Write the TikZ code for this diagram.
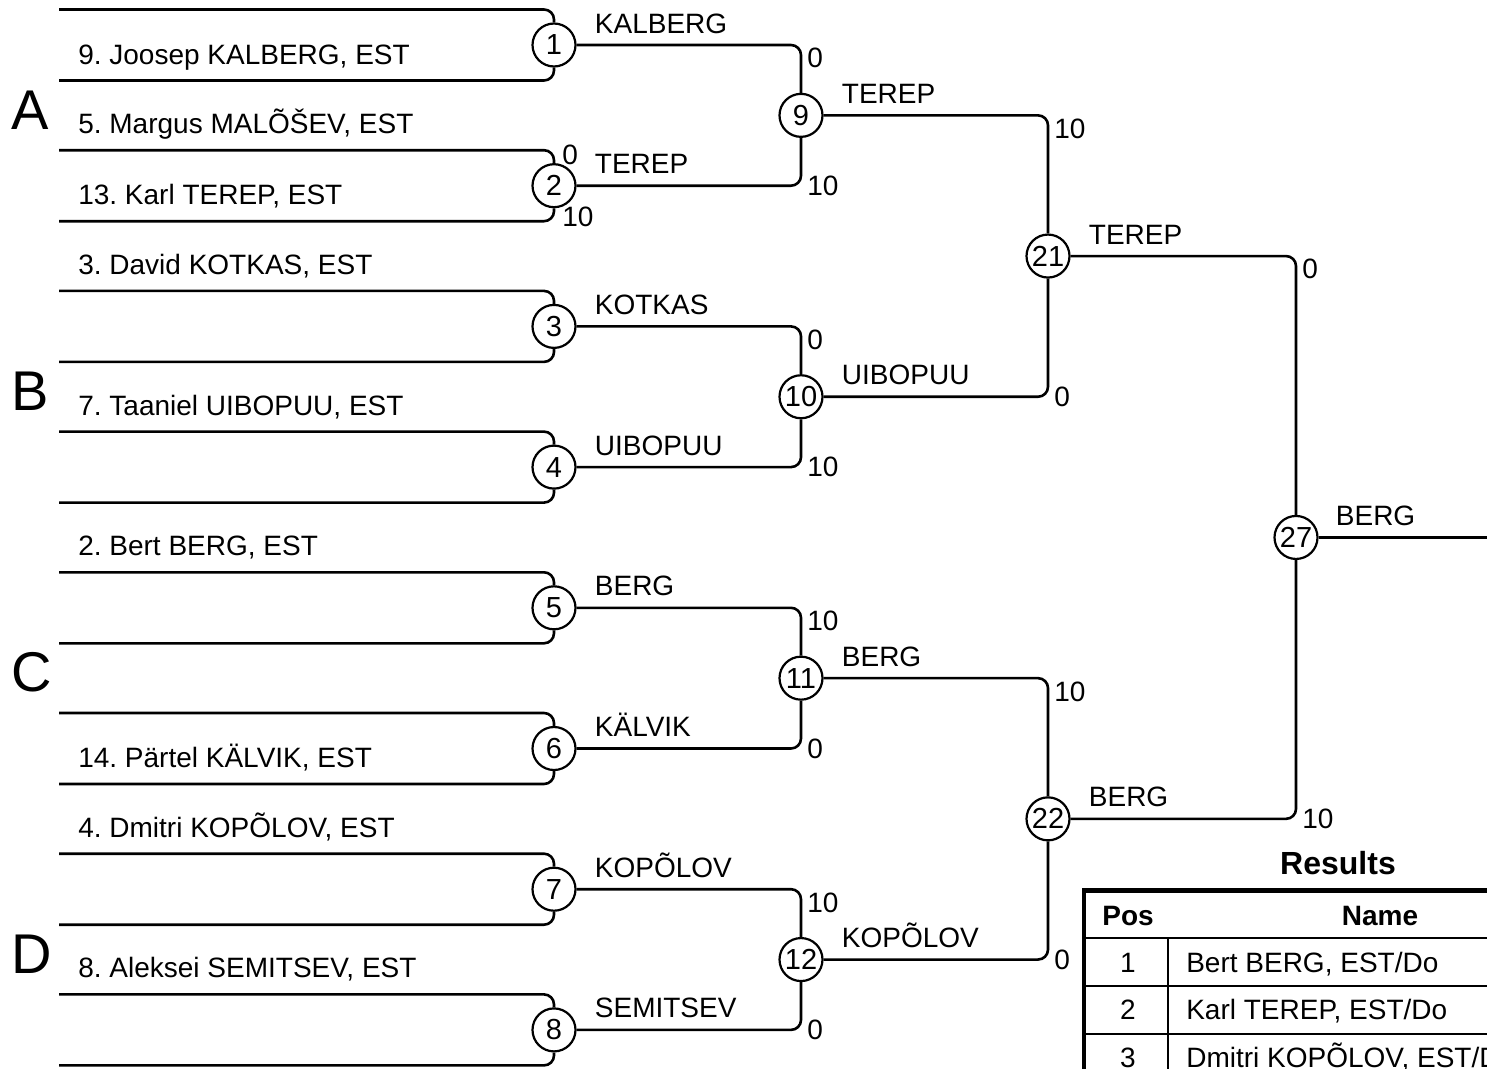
\documentclass[tikz,border=0pt]{standalone}
\usepackage{fontspec}
\setmainfont{Liberation Sans}
\usetikzlibrary{calc}
\frenchspacing

\begin{document}
\begin{tikzpicture}[x=1pt,y=-1pt,line width=2.6pt,
  bout/.style={draw,circle,line width=2.2pt,minimum size=43pt,inner sep=0pt,font=\fontsize{29}{29}\selectfont},
  player/.style={anchor=base west,inner sep=0pt,font=\fontsize{28}{28}\selectfont},
  winner/.style={anchor=base west,inner sep=0pt,font=\fontsize{28}{28}\selectfont},
  score/.style={anchor=west,inner sep=0pt,font=\fontsize{28}{28}\selectfont},
  pool/.style={anchor=base west,inner sep=0pt,font=\fontsize{56}{56}\selectfont},
  cell/.style={anchor=base,inner sep=0pt,font=\fontsize{28}{28}\selectfont},
  bracket/.style={rounded corners=10pt}]

\useasboundingbox (0,0) rectangle (1487,1068);
\clip (0,0) rectangle (1487,1068);

% Round 1
\foreach \n/\y in {1/45,2/185.7,3/326.4,4/467.1,5/607.8,6/748.5,7/889.2,8/1029.9} {
  \node[bout] (m\n) at (554,\y) {\n};
  \coordinate (t\n) at (59,\y-35.5);
  \coordinate (b\n) at (59,\y+35.5);
  \draw[bracket] (t\n) -| (m\n.north);
  \draw[bracket] (b\n) -| (m\n.south);
}

% Players
\node[player] (n1) at ($(b1)+(18,-16.5)$) {9. Joosep KALBERG, EST};
\node[player] (n2) at ($(t2)+(18,-16.5)$) {5. Margus MALÕŠEV, EST};
\node[player] (n3) at ($(b2)+(18,-16.5)$) {13. Karl TEREP, EST};
\node[player] (n4) at ($(t3)+(18,-16.5)$) {3. David KOTKAS, EST};
\node[player] (n5) at ($(t4)+(18,-16.5)$) {7. Taaniel UIBOPUU, EST};
\node[player] (n6) at ($(t5)+(18,-16.5)$) {2. Bert BERG, EST};
\node[player] (n7) at ($(b6)+(18,-16.5)$) {14. Pärtel KÄLVIK, EST};
\node[player] (n8) at ($(t7)+(18,-16.5)$) {4. Dmitri KOPÕLOV, EST};
\node[player] (n9) at ($(t8)+(18,-16.5)$) {8. Aleksei SEMITSEV, EST};

% Pools
\node[pool] (ga) at (10,129) {A};
\node[pool] (gb) at (10,410.4) {B};
\node[pool] (gc) at (10,691.8) {C};
\node[pool] (gd) at (10,973.2) {D};

% Scores of bout 2
\node[score] at ($(t2-|m2)+(7,5)$) {0};
\node[score] at ($(b2-|m2)+(7,-4)$) {10};

% Round 2
\node[bout] (m9) at (801,115.35) {9};
\node[bout] (m10) at (801,396.75) {10};
\node[bout] (m11) at (801,678.15) {11};
\node[bout] (m12) at (801,959.55) {12};

\draw[bracket] (m1.east) -| (m9.north);
\draw[bracket] (m2.east) -| (m9.south);
\draw[bracket] (m3.east) -| (m10.north);
\draw[bracket] (m4.east) -| (m10.south);
\draw[bracket] (m5.east) -| (m11.north);
\draw[bracket] (m6.east) -| (m11.south);
\draw[bracket] (m7.east) -| (m12.north);
\draw[bracket] (m8.east) -| (m12.south);

\node[winner] at ($(m1.east)+(17,-12)$) {KALBERG};
\node[winner] at ($(m2.east)+(17,-12)$) {TEREP};
\node[winner] at ($(m3.east)+(17,-12)$) {KOTKAS};
\node[winner] at ($(m4.east)+(17,-12)$) {UIBOPUU};
\node[winner] at ($(m5.east)+(17,-12)$) {BERG};
\node[winner] at ($(m6.east)+(17,-12)$) {KÄLVIK};
\node[winner] at ($(m7.east)+(17,-12)$) {KOPÕLOV};
\node[winner] at ($(m8.east)+(17,-12)$) {SEMITSEV};

\node[score,anchor=north west] at ($(m1-|m9)+(5,2)$) {0};
\node[score] at ($(m2-|m9)+(5,0)$) {10};
\node[score,anchor=north west] at ($(m3-|m10)+(5,2)$) {0};
\node[score] at ($(m4-|m10)+(5,0)$) {10};
\node[score,anchor=north west] at ($(m5-|m11)+(5,2)$) {10};
\node[score] at ($(m6-|m11)+(5,0)$) {0};
\node[score,anchor=north west] at ($(m7-|m12)+(5,2)$) {10};
\node[score] at ($(m8-|m12)+(5,0)$) {0};

% Round 3
\node[bout] (m21) at (1048,256.05) {21};
\node[bout] (m22) at (1048,818.85) {22};

\draw[bracket] (m9.east) -| (m21.north);
\draw[bracket] (m10.east) -| (m21.south);
\draw[bracket] (m11.east) -| (m22.north);
\draw[bracket] (m12.east) -| (m22.south);

\node[winner] at ($(m9.east)+(17,-12)$) {TEREP};
\node[winner] at ($(m10.east)+(17,-12)$) {UIBOPUU};
\node[winner] at ($(m11.east)+(17,-12)$) {BERG};
\node[winner] at ($(m12.east)+(17,-12)$) {KOPÕLOV};

\node[score,anchor=north west] at ($(m9-|m21)+(5,2)$) {10};
\node[score] at ($(m10-|m21)+(5,0)$) {0};
\node[score,anchor=north west] at ($(m11-|m22)+(5,2)$) {10};
\node[score] at ($(m12-|m22)+(5,0)$) {0};

% Final
\node[bout] (m27) at (1296,537.45) {27};
\coordinate (champ) at (1487,537.45);

\draw[bracket] (m21.east) -| (m27.north);
\draw[bracket] (m22.east) -| (m27.south);
\draw (m27.east) -- (champ);

\node[winner] at ($(m21.east)+(17,-12)$) {TEREP};
\node[winner] at ($(m22.east)+(17,-12)$) {BERG};
\node[winner] at ($(m27.east)+(16,-12)$) {BERG};

\node[score,anchor=north west] at ($(m21-|m27)+(5,2)$) {0};
\node[score] at ($(m22-|m27)+(5,0)$) {10};

% Results
\node[cell,font=\bfseries\fontsize{32}{32}\selectfont] (res) at (1338,874) {Results};
\draw[line width=2.4pt] (1084,938) -- (1520,938);
\draw[line width=2.4pt] (1084,986) -- (1520,986);
\draw[line width=2.4pt] (1084,1034) -- (1520,1034);
\draw[line width=2.4pt] (1168,938) -- (1168,1080);
\draw[line width=4.5pt] (1084,890.5) rectangle (1520,1100);

\node[cell,font=\bfseries\fontsize{28}{28}\selectfont] (hpos) at (1128,925) {Pos};
\node[cell,font=\bfseries\fontsize{28}{28}\selectfont] (hname) at (1380,925) {Name};
\node[cell] (p1) at (1128,972) {1};
\node[cell] (p2) at (1128,1019) {2};
\node[cell] (p3) at (1128,1067) {3};
\node[cell,anchor=base west] (r1) at (1185,972) {Bert BERG, EST/Do};
\node[cell,anchor=base west] (r2) at (1185,1019) {Karl TEREP, EST/Do};
\node[cell,anchor=base west] (r3) at (1185,1067) {Dmitri KOPÕLOV, EST/Do};

\end{tikzpicture}
\end{document}
